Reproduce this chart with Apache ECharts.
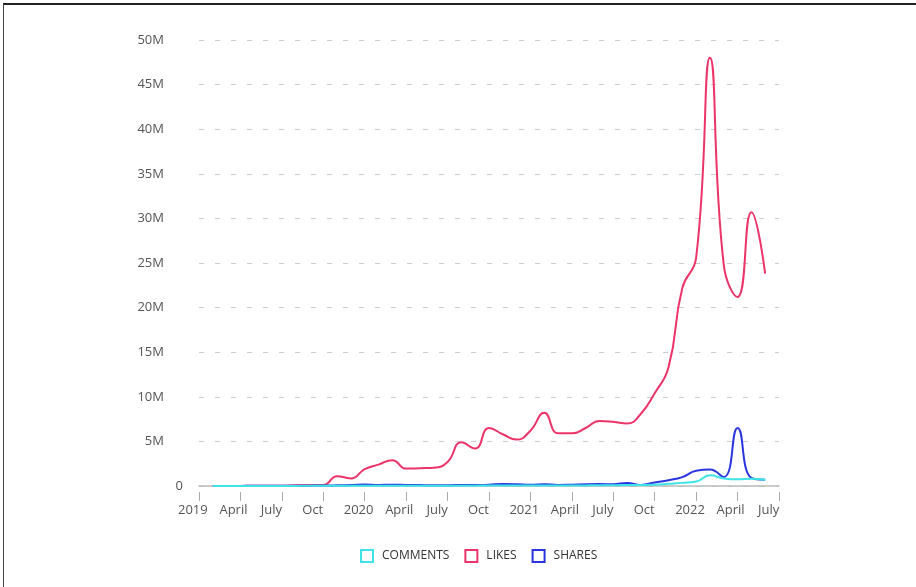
<!DOCTYPE html>
<html>
<head>
<meta charset="utf-8">
<script src="https://cdn.jsdelivr.net/npm/echarts@6/dist/echarts.min.js"></script>
<style>
  html, body { margin: 0; padding: 0; background: #fff; }
  #frame { position: absolute; left: 3px; top: 3px; width: 913px; height: 584px;
           border-top: 2px solid #222; border-left: 1px solid #444; box-sizing: border-box; }
  #main { position: absolute; left: 0; top: 0; width: 916px; height: 587px; }
</style>
</head>
<body>
<div id="frame"></div>
<div id="main"></div>
<script>
// monthly points, Feb 2019 .. Jun 2022 (values in millions)
var months = [
  '2019-02', '2019-03', '2019-04', '2019-05', '2019-06', '2019-07', '2019-08', '2019-09', '2019-10', '2019-11', '2019-12',
  '2020-01', '2020-02', '2020-03', '2020-04', '2020-05', '2020-06', '2020-07', '2020-08', '2020-09', '2020-10', '2020-11', '2020-12',
  '2021-01', '2021-02', '2021-03', '2021-04', '2021-05', '2021-06', '2021-07', '2021-08', '2021-09', '2021-10', '2021-11', '2021-12',
  '2022-01', '2022-02', '2022-03', '2022-04', '2022-05', '2022-06'
];
var comments = [
  0.005, 0.005, 0.005, 0.01, 0.01, 0.01, 0.01, 0.02, 0.02, 0.03, 0.03,
  0.04, 0.04, 0.04, 0.04, 0.03, 0.03, 0.03, 0.04, 0.04, 0.05, 0.05, 0.05,
  0.05, 0.06, 0.06, 0.06, 0.07, 0.08, 0.08, 0.1, 0.1, 0.15, 0.25, 0.35,
  0.5, 1.2, 0.85, 0.75, 0.8, 0.7
];
var likes = [
  0.01, 0.01, 0.01, 0.02, 0.02, 0.03, 0.08, 0.12, 0.12, 1.1, 0.85,
  1.9, 2.4, 2.9, 1.95, 2.0, 2.05, 2.7, 4.9, 4.2, 6.5, 5.8, 5.2,
  6.2, 8.2, 5.9, 5.9, 6.5, 7.3, 7.2, 7.0, 8.1, 10.4, 13.3, 22.2,
  25.6, 48.0, 24.8, 21.2, 30.7, 23.8
];
var shares = [
  0.01, 0.01, 0.01, 0.02, 0.02, 0.02, 0.03, 0.04, 0.05, 0.08, 0.12,
  0.18, 0.12, 0.15, 0.12, 0.1, 0.08, 0.08, 0.12, 0.1, 0.15, 0.22, 0.2,
  0.15, 0.2, 0.12, 0.15, 0.2, 0.22, 0.2, 0.35, 0.12, 0.4, 0.65, 1.0,
  1.7, 1.85, 1.0, 6.5, 0.9, 0.7
];
var tickLabels = ['2019', 'April', 'July', 'Oct', '2020', 'April', 'July', 'Oct',
                  '2021', 'April', 'July', 'Oct', '2022', 'April', 'July'];

var chart = echarts.init(document.getElementById('main'));

// month index counted from Jan 2019
function monthIndex(m) {
  var p = m.split('-');
  return (parseInt(p[0], 10) - 2019) * 12 + parseInt(p[1], 10) - 1;
}
function pairs(vals) {
  return months.map(function (m, i) { return [monthIndex(m), vals[i]]; });
}

var font = 'Open Sans';
var colors = { COMMENTS: '#3de3e6', LIKES: '#ec3468', SHARES: '#2a35e0' };

var option = {
  animation: false,
  grid: { left: 199, right: 137, top: 40, bottom: 101 },
  legend: {
    left: 355,
    top: 544,
    icon: 'rect',
    itemWidth: 12,
    itemHeight: 12,
    itemGap: 15,
    textStyle: { color: '#333', fontFamily: font, fontSize: 12, padding: [0, 0, 0, 4] },
    data: ['COMMENTS', 'LIKES', 'SHARES'].map(function (n) {
      return { name: n, itemStyle: { color: '#fff', borderColor: colors[n], borderWidth: 2 } };
    })
  },
  xAxis: {
    type: 'value',
    min: 0,
    max: 42,
    interval: 3,
    axisLine: { lineStyle: { color: '#bbb', width: 1.5 } },
    axisTick: { show: true, length: 15, lineStyle: { color: '#aaa', type: [9, 6], dashOffset: 9 } },
    splitLine: { show: false },
    axisLabel: {
      margin: 18,
      align: 'right',
      color: '#555',
      fontFamily: font,
      fontSize: 13,
      formatter: function (v) { return '{t|' + tickLabels[Math.round(v / 3)] + '}'; },
      rich: { t: { width: 21, align: 'left', color: '#555', fontFamily: font, fontSize: 13 } }
    }
  },
  yAxis: {
    type: 'value',
    min: 0,
    max: 50,
    interval: 5,
    axisLine: { show: false },
    axisTick: { show: false },
    splitLine: { lineStyle: { color: '#ccc', type: [5, 11] } },
    axisLabel: {
      margin: 16,
      color: '#555',
      fontFamily: font,
      fontSize: 13,
      formatter: function (v) { return v === 0 ? '{z|0}' : '{m|' + v + 'M}'; },
      rich: {
        z: { color: '#555', fontFamily: font, fontSize: 13 },
        m: { color: '#555', fontFamily: font, fontSize: 13, padding: [0, 19, 0, 0] }
      }
    }
  },
  series: [
    {
      name: 'COMMENTS', type: 'line', smooth: true, showSymbol: false, z: 4,
      lineStyle: { color: colors.COMMENTS, width: 2 }, itemStyle: { color: colors.COMMENTS },
      data: pairs(comments)
    },
    {
      name: 'LIKES', type: 'line', smooth: true, showSymbol: false, z: 2,
      lineStyle: { color: colors.LIKES, width: 2 }, itemStyle: { color: colors.LIKES },
      data: pairs(likes)
    },
    {
      name: 'SHARES', type: 'line', smooth: true, showSymbol: false, z: 3,
      lineStyle: { color: colors.SHARES, width: 2 }, itemStyle: { color: colors.SHARES },
      data: pairs(shares)
    }
  ]
};
chart.setOption(option);
</script>
</body>
</html>
